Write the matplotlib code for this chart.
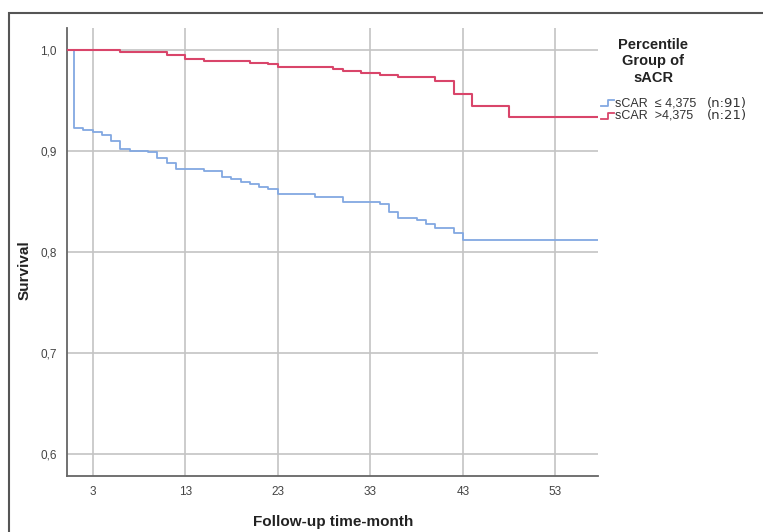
import matplotlib.pyplot as plt
from matplotlib.lines import Line2D
from matplotlib.patches import Rectangle

plt.rcParams['font.family'] = ['Liberation Sans Narrow', 'Liberation Sans', 'DejaVu Sans']

# Kaplan-Meier steps (time in months, survival after the step)
low_t = [0, 1, 2, 3, 4, 5, 6, 7, 9, 10, 11, 12, 15, 17, 18, 19, 20, 21, 22, 23,
         27, 30, 34, 35, 36, 38, 39, 40, 42, 43, 58]
low_s = [1.0, 0.923, 0.921, 0.919, 0.916, 0.910, 0.902, 0.900, 0.899, 0.893, 0.8885,
         0.8825, 0.8805, 0.8746, 0.872, 0.8696, 0.8673, 0.8647, 0.8624, 0.857,
         0.8548, 0.850, 0.8475, 0.840, 0.834, 0.8317, 0.8274, 0.8234, 0.819, 0.812, 0.812]

high_t = [0, 6, 11, 13, 15, 20, 22, 23, 29, 30, 32, 34, 36, 40, 42, 44, 48, 58]
high_s = [1.0, 0.998, 0.995, 0.991, 0.989, 0.9875, 0.986, 0.9835, 0.9815, 0.979,
          0.9775, 0.975, 0.973, 0.969, 0.957, 0.945, 0.934, 0.934]

xticks = [3, 13, 23, 33, 43, 53]
yticks = [0.6, 0.7, 0.8, 0.9, 1.0]
ytick_labels = ['0,6', '0,7', '0,8', '0,9', '1,0']

blue = '#82a8e2'
red = '#d9456a'

fig = plt.figure(figsize=(7.63, 5.32), dpi=100)
ax = fig.add_axes([0.0874, 0.1053, 0.6963, 0.8421])

ax.step(low_t, low_s, where='post', color=blue, lw=1.3, zorder=3)
ax.step(high_t, high_s, where='post', color=red, lw=1.5, zorder=4)

ax.set_xlim(0.2, 57.6)
ax.set_ylim(0.578, 1.022)
ax.set_xticks(xticks)
ax.set_yticks(yticks)
ax.set_yticklabels(ytick_labels)
ax.grid(True, color='#c4c4c4', lw=1.2)
ax.set_axisbelow(True)
ax.tick_params(length=0, labelsize=8.5, colors='#444444', pad=7)
for s in ['top', 'right']:
    ax.spines[s].set_visible(False)
for s in ['left', 'bottom']:
    ax.spines[s].set_color('#666666')
    ax.spines[s].set_linewidth(1.3)

fig.text(333 / 763, 1 - 522 / 532, 'Follow-up time-month', ha='center', va='center',
         fontsize=11, fontweight='bold', color='#222222')
fig.text(25 / 763, 1 - 270 / 532, 'Survival', ha='center', va='center', rotation=90,
         fontsize=11, fontweight='bold', color='#222222')

# legend drawn by hand (SPSS style)
for i, line in enumerate(['Percentile', 'Group of', 'sACR']):
    fig.text(653 / 763, 1 - (45 + i * 16.5) / 532, line, ha='center', va='center',
             fontsize=10.5, fontweight='bold', color='#222222')

entries = [(blue, 'sCAR  \u2264 4,375', '(n:91)', 103),
           (red, 'sCAR  >4,375', '(n:21)', 116)]
for col, lab, n, yy in entries:
    y0 = 1 - (yy + 3) / 532
    y1 = 1 - (yy - 3) / 532
    fig.add_artist(Line2D([601 / 763, 608 / 763, 608 / 763, 614 / 763],
                          [y0, y0, y1, y1], color=col, lw=1.3,
                          transform=fig.transFigure))
    fig.text(615 / 763, 1 - yy / 532, lab, ha='left', va='center',
             fontsize=9, color='#333333')
    fig.text(707 / 763, 1 - yy / 532, n, ha='left', va='center',
             fontsize=9.5, color='#333333', family=['DejaVu Sans'])

# outer frame of the figure
fig.add_artist(Rectangle((9 / 763, -0.05), 1.2, 1 - 13 / 532 + 0.05,
                         transform=fig.transFigure, fill=False,
                         edgecolor='#555555', lw=1.5))

fig.savefig('out.png', dpi=100)
